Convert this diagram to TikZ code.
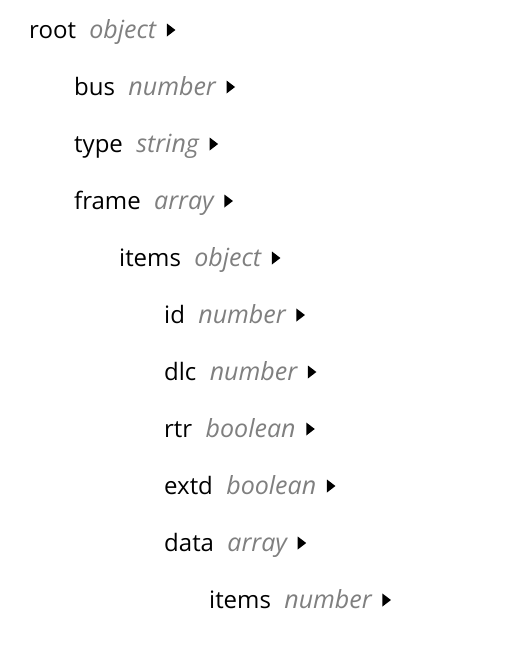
\documentclass[tikz,border=0pt]{standalone}
\usepackage{fontspec}
\setmainfont{Open Sans}
\definecolor{typegray}{HTML}{7F7F7F}
\tikzset{
  nm/.style={anchor=base west, inner sep=0pt, font=\fontsize{24}{28}\selectfont, text=black},
  ty/.style={anchor=base west, inner sep=0pt, font=\fontsize{25}{29}\selectfont\itshape, text=typegray},
  tri/.style={fill=black}
}
\begin{document}
\begin{tikzpicture}[x=1pt,y=1pt]
\useasboundingbox (0,0) rectangle (514,-653);
\foreach \nam/\typ/\lev/\row [count=\i] in {
  root/object/0/0, bus/number/1/1, type/string/1/2, frame/array/1/3,
  items/object/2/4, id/number/3/5, dlc/number/3/6, rtr/boolean/3/7,
  extd/boolean/3/8, data/array/3/9, items/number/4/10}{
  \node[nm] (n\i) at ({29+45*\lev}, {-38.5-57*\row}) {\nam};
  \node[ty] (t\i) at ([xshift=13pt]n\i.base east) {\typ};
  \coordinate (a\i) at ([xshift=10.5pt]t\i.base east);
  \fill[tri] ([yshift=2pt]a\i) -- ++(0,13) -- ++(8.5,-6.5) -- cycle;
}
\end{tikzpicture}
\end{document}
